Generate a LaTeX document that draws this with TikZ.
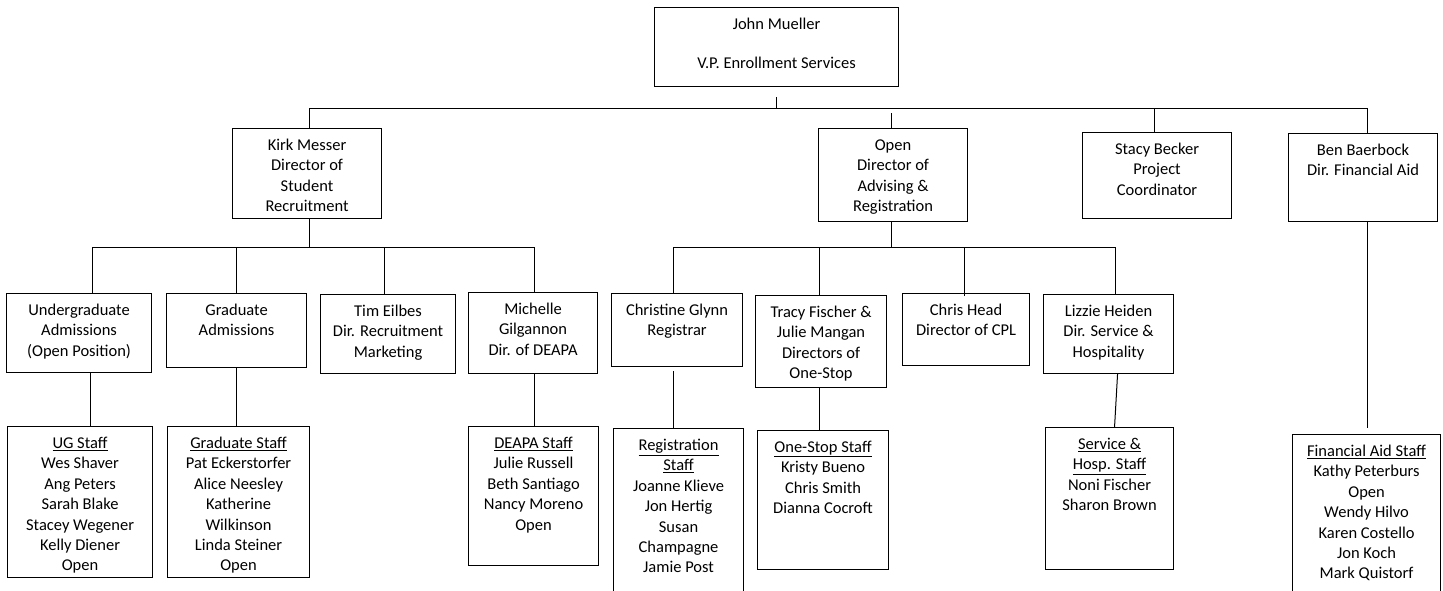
\documentclass[tikz,border=0pt]{standalone}
\usepackage{fontspec}
\setmainfont{Carlito}
\usepackage{tikz}
\newcommand{\boxtext}[3]{\parbox[t][#2pt][t]{#1pt}{\centering\rule{0pt}{22pt}#3}}
\tikzset{
  box/.style={draw, line width=1.1pt, anchor=north west, inner sep=0pt, font={\fontsize{16.5}{20.4}\selectfont}},
  link/.style={line width=1pt},
}

\begin{document}
\begin{tikzpicture}[x=1pt,y=-1pt]
\useasboundingbox (0,0) rectangle (1443,590);
\node[box] (JM) at (654,7) {\boxtext{244}{79}{John Mueller\\[18.5pt]V.P. Enrollment Services}};
\node[box] (KM) at (232,128) {\boxtext{149}{90}{Kirk Messer\\Director of\\Student\\Recruitment}};
\node[box] (OD) at (818,128) {\boxtext{149}{93}{Open\\Director of\\Advising \&\\Registration}};
\node[box] (SB) at (1082,132) {\boxtext{149}{86}{Stacy Becker\\Project\\Coordinator}};
\node[box] (BB) at (1288,133) {\boxtext{149}{88}{Ben Baerbock\\Dir. Financial Aid}};
\node[box] (UA) at (6,293) {\boxtext{145}{79}{Undergraduate\\Admissions\\(Open Position)}};
\node[box] (GA) at (166,293) {\boxtext{140}{74}{Graduate\\Admissions}};
\node[box] (TE) at (320,294) {\boxtext{135}{79}{Tim Eilbes\\Dir. Recruitment\\Marketing}};
\node[box] (MG) at (468,292) {\boxtext{129}{81}{Michelle\\Gilgannon\\Dir. of DEAPA}};
\node[box] (CG) at (611,293) {\boxtext{131}{73}{Christine Glynn\\Registrar}};
\node[box] (TF) at (755,295) {\boxtext{131}{92}{Tracy Fischer \&\\Julie Mangan\\Directors of\\One-Stop}};
\node[box] (CH) at (902,293) {\boxtext{127}{72}{Chris Head\\Director of CPL}};
\node[box] (LH) at (1043,294) {\boxtext{130}{79}{Lizzie Heiden\\Dir. Service \&\\Hospitality}};
\node[box] (US) at (7,426) {\boxtext{145}{151}{\underline{UG Staff}\\Wes Shaver\\Ang Peters\\Sarah Blake\\Stacey Wegener\\Kelly Diener\\Open}};
\node[box] (GS) at (167,426) {\boxtext{142}{151}{\underline{Graduate Staff}\\Pat Eckerstorfer\\Alice Neesley\\Katherine\\Wilkinson\\Linda Steiner\\Open}};
\node[box] (DS) at (468,426) {\boxtext{130}{139}{\underline{DEAPA Staff}\\Julie Russell\\Beth Santiago\\Nancy Moreno\\Open}};
\node[box] (RS) at (613,428) {\boxtext{130}{180}{\underline{Registration}\\\underline{Staff}\\Joanne Klieve\\Jon Hertig\\Susan\\Champagne\\Jamie Post}};
\node[box] (OS) at (757,430) {\boxtext{131}{139}{\underline{One-Stop Staff}\\Kristy Bueno\\Chris Smith\\Dianna Cocroft}};
\node[box] (HS) at (1045,427) {\boxtext{128}{142}{\underline{Service \&}\\\underline{Hosp. Staff}\\Noni Fischer\\Sharon Brown}};
\node[box] (FS) at (1292,434) {\boxtext{148}{180}{\underline{Financial Aid Staff}\\Kathy Peterburs\\Open\\Wendy Hilvo\\Karen Costello\\Jon Koch\\Mark Quistorf}};
\coordinate (T) at (776,108);
\coordinate (K) at (309,247);
\coordinate (A) at (890,247);
\draw[link] ([yshift=-10pt]JM.south) -- (JM.south |- T);
\draw[link] ([xshift=2pt]KM.north) -- ([xshift=2pt]KM.north |- T) -- ([xshift=4pt]BB.north |- T) -- ([xshift=4pt]BB.north);
\draw[link] ([xshift=-2pt]OD.north) -- ([xshift=-2pt,yshift=15pt]OD.north);
\draw[link] ([xshift=-3pt]SB.north) -- ([xshift=-3pt]SB.north |- T);
\draw[link] ([xshift=2pt]KM.south) -- ([xshift=2pt]KM.south |- K);
\draw[link] ([xshift=13pt]UA.north) -- ([xshift=13pt]UA.north |- K) -- ([xshift=1pt]MG.north |- K) -- ([xshift=1pt]MG.north);
\draw[link] (GA.north) -- (GA.north |- K);
\draw[link] ([xshift=-4pt]TE.north) -- ([xshift=-4pt]TE.north |- K);
\draw[link] ([xshift=-2pt]OD.south) -- ([xshift=-2pt]OD.south |- A);
\draw[link] ([xshift=-4pt]CG.north) -- ([xshift=-4pt]CG.north |- A) -- ([xshift=7pt]LH.north |- A) -- ([xshift=7pt]LH.north);
\draw[link] ([xshift=-2pt]TF.north) -- ([xshift=-2pt]TF.north |- A);
\draw[link] ([xshift=-2pt,yshift=-3pt]CH.north) -- ([xshift=-2pt]CH.north |- A);
\draw[link] ([xshift=11pt]UA.south) -- ([xshift=11pt]UA.south |- US.north);
\draw[link] (GA.south) -- (GA.south |- GS.north);
\draw[link] ([xshift=1pt]MG.south) -- ([xshift=1pt]MG.south |- DS.north);
\draw[link] ([xshift=-4pt,yshift=-4pt]CG.south) -- ([xshift=-4pt]CG.south |- RS.north);
\draw[link] ([xshift=-2pt]TF.south) -- ([xshift=-2pt]TF.south |- OS.north);
\draw[link] ([xshift=9pt]LH.south) -- ([xshift=5pt]HS.north);
\draw[link] ([xshift=4pt]BB.south) -- ([xshift=4pt,yshift=6pt]BB.south |- FS.north);
\end{tikzpicture}
\end{document}
